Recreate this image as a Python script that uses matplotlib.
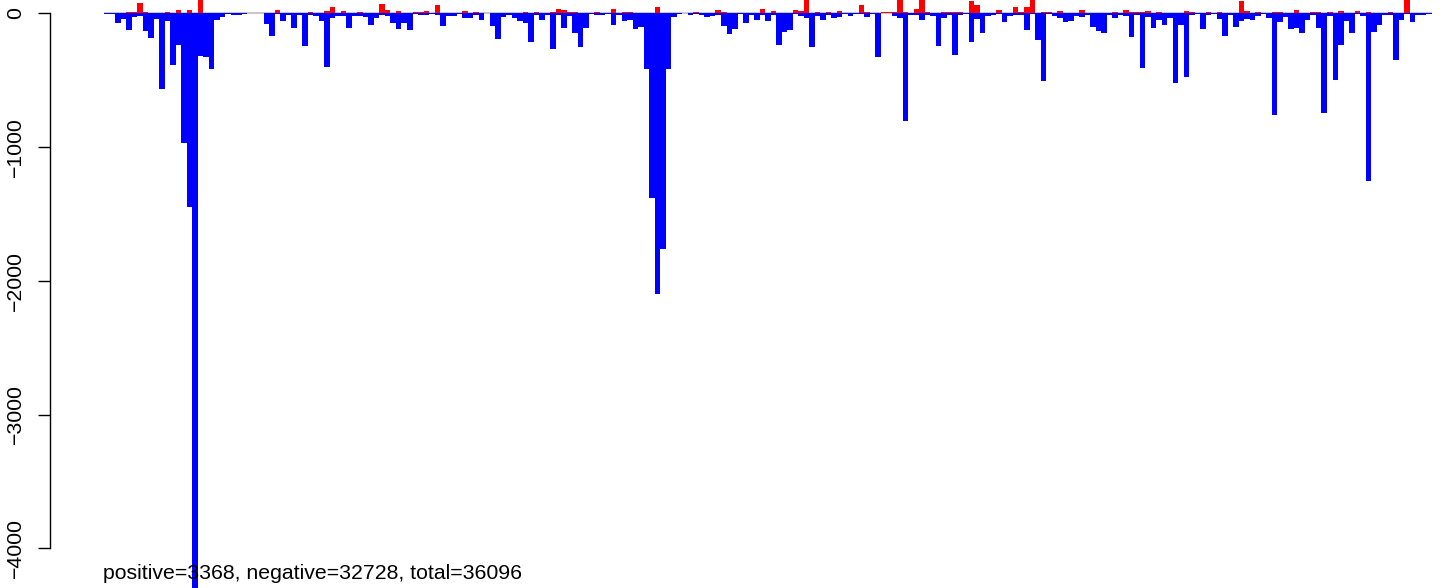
import numpy as np
import matplotlib
matplotlib.use("Agg")
import matplotlib.pyplot as plt

# counts of positive events per bin (drawn upward, red)
positive = [
    0, 0, 0, 0, 10, 10, 80, 10, 3, 3,
    3, 10, 0, 25, 0, 25, 0, 200, 3, 0,
    0, 0, 0, 3, 0, 0, 3, 0, 0, 0,
    3, 25, 3, 3, 0, 3, 0, 10, 3, 0,
    18, 48, 0, 18, 0, 0, 10, 0, 0, 0,
    70, 25, 0, 18, 0, 0, 10, 10, 18, 0,
    63, 0, 0, 0, 3, 18, 0, 10, 0, 3,
    0, 0, 3, 0, 3, 0, 10, 0, 10, 0,
    0, 10, 33, 25, 10, 10, 3, 0, 0, 10,
    3, 0, 33, 0, 10, 10, 0, 3, 3, 0,
    48, 0, 0, 0, 0, 0, 0, 10, 3, 0,
    0, 25, 10, 3, 0, 3, 3, 3, 3, 33,
    0, 18, 0, 0, 0, 25, 18, 250, 3, 10,
    3, 10, 0, 18, 0, 0, 3, 63, 10, 0,
    0, 10, 10, 10, 200, 10, 0, 33, 230, 10,
    3, 0, 10, 10, 10, 10, 0, 93, 63, 0,
    3, 3, 25, 0, 0, 48, 10, 48, 260, 0,
    10, 10, 0, 18, 0, 0, 0, 25, 0, 3,
    3, 0, 0, 10, 0, 25, 10, 10, 10, 18,
    0, 10, 0, 0, 3, 0, 18, 10, 0, 0,
    10, 0, 10, 0, 3, 0, 93, 18, 0, 10,
    0, 0, 10, 10, 0, 0, 25, 0, 0, 10,
    10, 0, 10, 0, 18, 0, 0, 18, 0, 10,
    0, 0, 0, 10, 0, 0, 240, 0, 3, 0,
    0,
]

# counts of negative events per bin (drawn downward, blue)
negative = [
    5, 5, 70, 40, 125, 25, 18, 130, 183, 43,
    568, 55, 385, 235, 970, 1450, 4400, 318, 325, 415,
    48, 25, 5, 10, 10, 3, 0, 0, 0, 80,
    168, 5, 55, 10, 110, 10, 243, 10, 18, 55,
    400, 33, 18, 18, 108, 18, 18, 25, 85, 33,
    10, 18, 70, 115, 70, 123, 5, 10, 10, 5,
    10, 93, 18, 18, 3, 33, 33, 10, 48, 0,
    93, 190, 25, 10, 33, 55, 70, 213, 10, 48,
    10, 265, 10, 108, 18, 145, 250, 108, 5, 10,
    10, 3, 85, 10, 55, 48, 115, 100, 415, 1380,
    2100, 1760, 415, 25, 3, 0, 10, 5, 10, 25,
    18, 10, 93, 153, 115, 5, 70, 10, 48, 10,
    55, 10, 235, 138, 123, 5, 18, 33, 250, 18,
    48, 10, 33, 25, 5, 18, 3, 3, 25, 3,
    325, 0, 0, 18, 33, 805, 10, 10, 48, 10,
    18, 243, 33, 10, 310, 10, 3, 213, 40, 145,
    18, 10, 5, 63, 18, 10, 10, 123, 3, 198,
    505, 3, 18, 33, 63, 55, 18, 25, 10, 100,
    130, 145, 10, 33, 10, 18, 175, 10, 408, 25,
    108, 48, 85, 33, 520, 85, 475, 10, 5, 115,
    10, 3, 40, 168, 10, 100, 55, 40, 48, 18,
    3, 33, 760, 63, 25, 115, 108, 145, 48, 10,
    108, 745, 18, 498, 235, 55, 145, 3, 18, 1255,
    138, 85, 10, 10, 348, 48, 3, 63, 10, 10,
    5,
]

y_ticks = [0, -1000, -2000, -3000, -4000]
summary_text = "positive=3368, negative=32728, total=36096"

plt.rcParams['font.family'] = ['Liberation Sans', 'DejaVu Sans']

W, H = 1444, 588
fig = plt.figure(figsize=(W / 100, H / 100), dpi=100)

# pixel geometry of the reference
ax_left_px = 50.3
bar0_px = 104.0
bar_w_px = 5.509
zero_px = 13.3
px_per_unit = 0.13375

ax = fig.add_axes([ax_left_px / W, 0, (W - ax_left_px) / W, 1])
ax.set_xlim((ax_left_px - bar0_px) / bar_w_px, (W - bar0_px) / bar_w_px)
ax.set_ylim(-(H - zero_px) / px_per_unit, zero_px / px_per_unit)

n = len(negative)
x = np.arange(n)
ax.hlines(0, 0, n, color='#bebebe', linewidth=1.2, zorder=1)
ax.bar(x, -np.array(negative), width=1.0, align='edge', color='#0000ff',
       edgecolor='none', linewidth=0, zorder=2)
ax.bar(x, np.array(positive), width=1.0, align='edge', color='#ff0000',
       edgecolor='none', linewidth=0, zorder=2)

for s in ['top', 'right', 'bottom']:
    ax.spines[s].set_visible(False)
ax.spines['left'].set_bounds(-4000, 0)
ax.spines['left'].set_linewidth(1.0)
ax.set_xticks([])
ax.set_yticks(y_ticks)
ax.set_yticklabels([f"{t}".replace('-', '\u2212') for t in y_ticks],
                   rotation=90, va='center', fontsize=15.3)
ax.tick_params(axis='y', length=9, width=1.0, pad=9)
ax.patch.set_alpha(0)

fig.text(103.3 / W, (H - 579.0) / H, summary_text, fontsize=15.3,
         ha='left', va='baseline', color='black', zorder=5)

fig.savefig('out.png', dpi=100)
